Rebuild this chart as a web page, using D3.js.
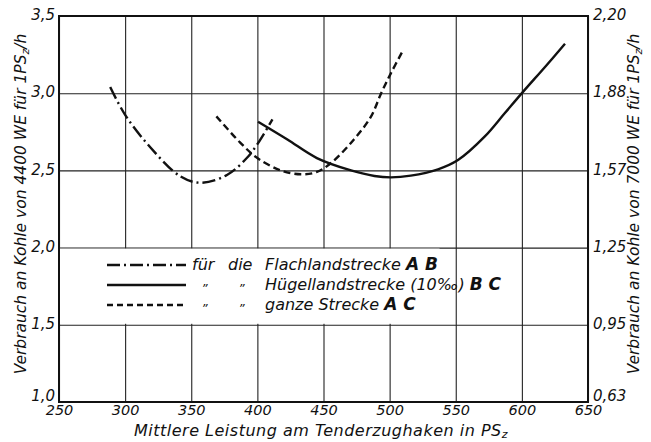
<!DOCTYPE html>
<html>
<head>
<meta charset="utf-8">
<script src="https://cdn.jsdelivr.net/npm/d3@7"></script>
<style>
  body { margin: 0; background: #fff; }
  svg text { font-family: "DejaVu Sans", sans-serif; font-style: italic; fill: #111; }
</style>
</head>
<body>
<div id="chart"></div>
<script>
// chart size
const width = 651;
const height = 442;
const margin = {left: 59, right: 63, top: 16, bottom: 40};

// tick values
const xTicks = [250, 300, 350, 400, 450, 500, 550, 600, 650];
const yTicks = [1.0, 1.5, 2.0, 2.5, 3.0, 3.5];
const yRightLabels = ["0,63", "0,95", "1,25", "1,57", "1,88", "2,20"];

// Flachlandstrecke AB (dash-dot)
const flachX = [288.7, 300, 319, 342, 357, 377, 392, 400, 411.4];
const flachY = [3.04, 2.86, 2.65, 2.46, 2.42, 2.47, 2.58, 2.67, 2.83];

// Huegellandstrecke BC (solid)
const huegelX = [400.5, 422.7, 445, 470.8, 488.5, 501, 516, 536.6, 551.7, 572, 587, 601, 617.5, 632.6];
const huegelY = [2.815, 2.70, 2.58, 2.50, 2.464, 2.455, 2.466, 2.507, 2.567, 2.72, 2.87, 3.01, 3.17, 3.32];

// ganze Strecke AC (dashed)
const ganzeX = [369, 387, 400, 417.7, 433, 445, 456, 473, 486, 493.6, 501, 510];
const ganzeY = [2.85, 2.68, 2.58, 2.50, 2.475, 2.49, 2.55, 2.70, 2.85, 3.0, 3.13, 3.275];

const svg = d3.select("#chart")
  .append("svg")
  .attr("width", width)
  .attr("height", height);

const x = d3.scaleLinear().domain([250, 650]).range([margin.left, width - margin.right]);
const y = d3.scaleLinear().domain([1.0, 3.5]).range([height - margin.bottom, margin.top]);

const fmt = d => d.toFixed(1).replace(".", ",");

// vertical grid + bottom labels
const xAxis = svg.append("g")
  .attr("transform", `translate(0,${height - margin.bottom})`)
  .call(d3.axisBottom(x).tickValues(xTicks)
    .tickSize(-(height - margin.top - margin.bottom))
    .tickPadding(3));
xAxis.select(".domain").remove();
xAxis.selectAll("line").attr("stroke", "#222").attr("stroke-width", 1.1);
xAxis.selectAll("text").attr("font-size", 14.5).attr("fill", "#111");

// horizontal grid + left labels (bottom one lifted off the x labels)
const yAxis = svg.append("g")
  .attr("transform", `translate(${margin.left},0)`)
  .call(d3.axisLeft(y).tickValues(yTicks).tickFormat(fmt)
    .tickSize(-(width - margin.left - margin.right))
    .tickPadding(4));
yAxis.select(".domain").remove();
yAxis.selectAll("line").attr("stroke", "#222").attr("stroke-width", 1.1);
yAxis.selectAll("text").attr("font-size", 15).attr("fill", "#111")
  .attr("dy", d => d === 1.0 ? "-0.1em" : "0.25em");

// right labels
const yAxisR = svg.append("g")
  .attr("transform", `translate(${width - margin.right},0)`)
  .call(d3.axisRight(y).tickValues(yTicks)
    .tickFormat((d, i) => yRightLabels[i])
    .tickSize(0).tickPadding(5));
yAxisR.select(".domain").remove();
yAxisR.selectAll("text").attr("font-size", 15).attr("fill", "#111")
  .attr("dy", d => d === 1.0 ? "-0.1em" : "0.25em");

// legend box blanks out the grid
svg.append("rect")
  .attr("x", x(250) + 1)
  .attr("y", y(2.0) + 1)
  .attr("width", x(537) - x(250))
  .attr("height", y(1.5) - y(2.0) - 2)
  .attr("fill", "#fff");

// frame
svg.append("rect")
  .attr("x", x(250)).attr("y", y(3.5))
  .attr("width", x(650) - x(250))
  .attr("height", y(1.0) - y(3.5))
  .attr("fill", "none").attr("stroke", "#111").attr("stroke-width", 2);

// curves
const line = d3.line().x(d => x(d[0])).y(d => y(d[1])).curve(d3.curveCatmullRom);
const series = [
  {xs: flachX, ys: flachY, dash: "13,4,2,4"},
  {xs: huegelX, ys: huegelY, dash: null},
  {xs: ganzeX, ys: ganzeY, dash: "7,4"}
];
series.forEach(s => {
  svg.append("path")
    .datum(s.xs.map((v, i) => [v, s.ys[i]]))
    .attr("d", line)
    .attr("fill", "none")
    .attr("stroke", "#111")
    .attr("stroke-width", 2.4)
    .attr("stroke-dasharray", s.dash);
});

// legend
const legendRows = [
  {dash: "13,4,2,4", y: 265, pre: ["für", "die"], text: "Flachlandstrecke", tag: "AB"},
  {dash: null, y: 285, pre: ["\u201E", "\u201E"], text: "Hügellandstrecke (10‰)", tag: "BC"},
  {dash: "6,4", y: 305, pre: ["\u201E", "\u201E"], text: "ganze Strecke", tag: "AC"}
];
legendRows.forEach(r => {
  svg.append("line")
    .attr("x1", 107).attr("x2", 186)
    .attr("y1", r.y).attr("y2", r.y)
    .attr("stroke", "#111").attr("stroke-width", 2.4)
    .attr("stroke-dasharray", r.dash);
  const quote = r.pre[0] !== "für";
  const fs = quote ? 12 : 16;
  svg.append("text").attr("x", quote ? 203 : 192).attr("y", r.y + (quote ? 1 : 5))
    .attr("font-size", fs).text(r.pre[0]);
  svg.append("text").attr("x", quote ? 240 : 228).attr("y", r.y + (quote ? 1 : 5))
    .attr("font-size", fs).text(r.pre[1]);
  const t = svg.append("text").attr("x", 265).attr("y", r.y + 5).attr("font-size", 16);
  t.append("tspan").text(r.text + "  ");
  t.append("tspan").attr("font-size", 17).attr("font-weight", "bold").text(r.tag.split("").join(" "));
});

// axis titles
const xt = svg.append("text")
  .attr("x", 321).attr("y", 436)
  .attr("text-anchor", "middle").attr("font-size", 16)
  .attr("letter-spacing", 0.5);
xt.append("tspan").text("Mittlere Leistung am Tenderzughaken in PS");
xt.append("tspan").attr("font-size", 11).attr("dy", 2).text("z");

function yTitle(xpos, label) {
  const t = svg.append("text")
    .attr("transform", `translate(${xpos},${204}) rotate(-90)`)
    .attr("text-anchor", "middle").attr("font-size", 15.5);
  t.append("tspan").text(label);
  t.append("tspan").attr("font-size", 11).attr("dy", 3).text("z");
  t.append("tspan").attr("dy", -3).text("/h");
}
yTitle(26, "Verbrauch an Kohle von 4400 WE für 1PS");
yTitle(639, "Verbrauch an Kohle von 7000 WE für 1PS");
</script>
</body>
</html>
